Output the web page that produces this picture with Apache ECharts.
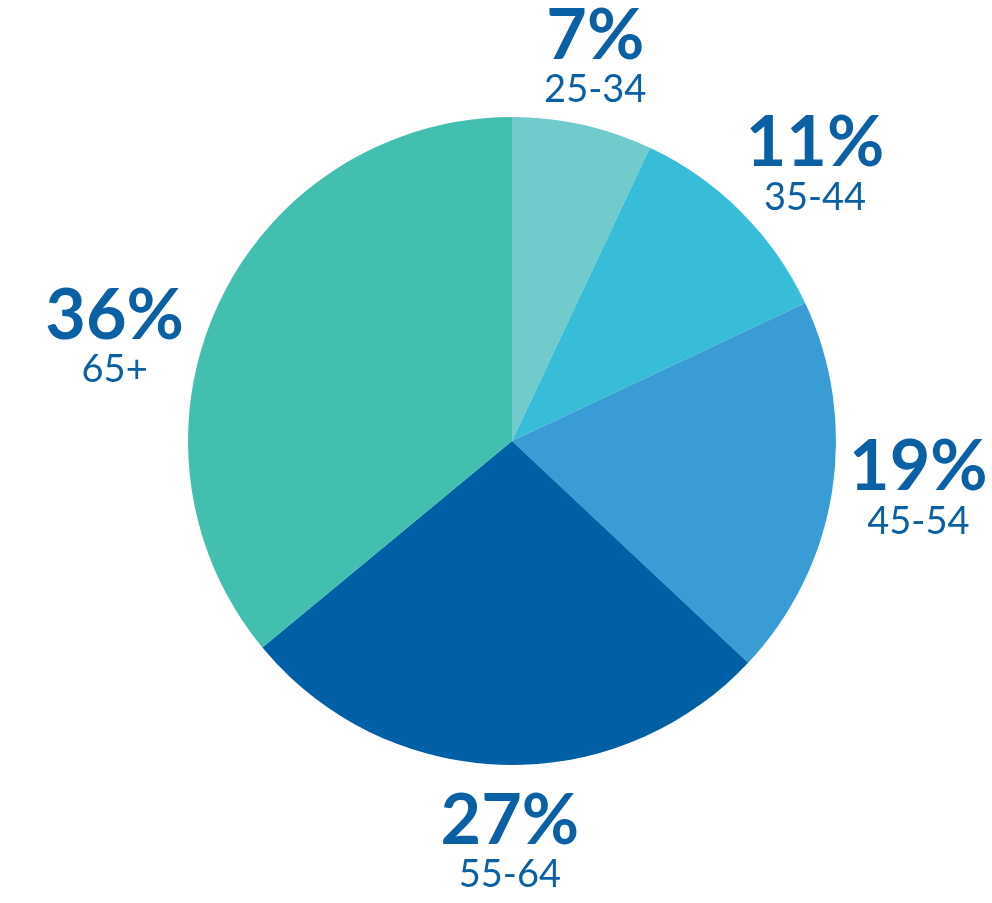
<!DOCTYPE html>
<html>
<head>
<meta charset="utf-8">
<script src="https://cdn.jsdelivr.net/npm/echarts@6/dist/echarts.min.js"></script>
<style>
  html, body { margin: 0; padding: 0; background: #ffffff; }
  #chart { width: 992px; height: 903px; }
</style>
</head>
<body>
<div id="chart"></div>
<script>
// ---- data ----
const ageGroups = ['25-34', '35-44', '45-54', '55-64', '65+'];
const shares = [7, 11, 19, 27, 36];
const sliceColors = ['#71CACC', '#38BDD8', '#3A9CD5', '#0060A5', '#43BFB0'];

// ---- layout config ----
const CX = 512, CY = 441, R = 324;
const labelRadius = [394, 411, 409, 400, 411];          // px from centre
const labelAngleNudge = [-0.4, 2.5, -2.5, -1.5, -10.4]; // degrees
const labelDy = 4;
const textColor = '#0B5FA5';

const total = shares.reduce((a, b) => a + b, 0);
const midAngles = [];
let acc = 0;
shares.forEach(v => {
  midAngles.push((acc + v / 2) / total * 360);
  acc += v;
});

const chart = echarts.init(document.getElementById('chart'), null, { renderer: 'canvas' });
chart.setOption({
  animation: false,
  backgroundColor: '#ffffff',
  series: [{
    type: 'pie',
    center: [CX, CY],
    radius: [0, R],
    startAngle: 90,
    clockwise: true,
    avoidLabelOverlap: false,
    silent: true,
    itemStyle: { borderWidth: 0 },
    data: ageGroups.map((name, i) => ({
      name: name,
      value: shares[i],
      itemStyle: { color: sliceColors[i] }
    })),
    label: {
      show: true,
      position: 'outside',
      formatter: '{p|{c}%}\n{n|{b}}',
      rich: {
        p: {
          fontFamily: 'Lato',
          fontWeight: 'bold',
          fontSize: 70,
          lineHeight: 60,
          color: textColor,
          align: 'center'
        },
        n: {
          fontFamily: 'Lato',
          fontWeight: 'normal',
          fontSize: 38,
          lineHeight: 47,
          color: textColor,
          align: 'center'
        }
      }
    },
    labelLine: { show: false },
    labelLayout: function (params) {
      const i = params.dataIndex;
      const a = (midAngles[i] + labelAngleNudge[i]) * Math.PI / 180;
      return {
        x: CX + labelRadius[i] * Math.sin(a),
        y: CY - labelRadius[i] * Math.cos(a) + labelDy,
        align: 'center',
        verticalAlign: 'middle'
      };
    }
  }]
});
</script>
</body>
</html>
